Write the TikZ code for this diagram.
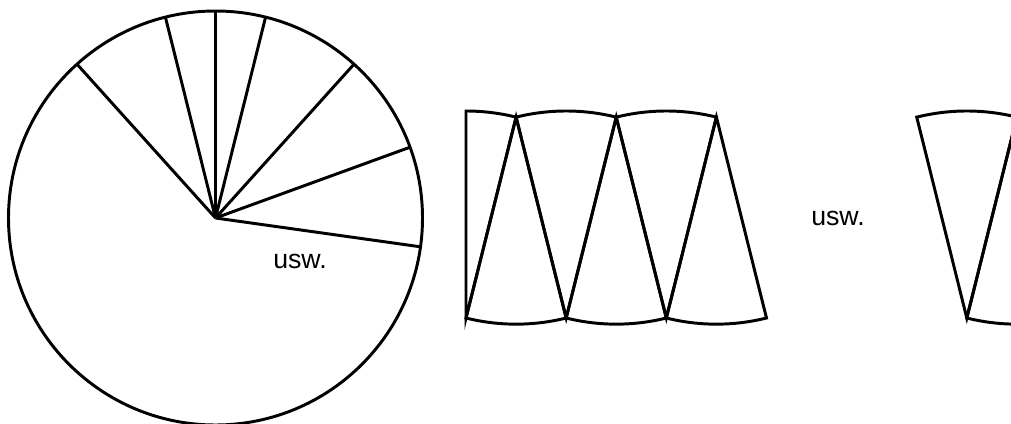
\documentclass[tikz,border=0pt]{standalone}
\usepackage{fontspec}
\setmainfont{Liberation Sans}
\usepackage{tikz}
\usetikzlibrary{calc}

\tikzset{
  kontur/.style={line width=2.1pt},
  usw/.style={font=\fontsize{19}{21}\selectfont}
}

\begin{document}
\begin{tikzpicture}[x=0.025cm, y=0.025cm]
\useasboundingbox (0,0) rectangle (1011,423);
\clip (0,0) rectangle (1011,423);

% Kreis mit Sektoren
\coordinate (M) at (215.5,205);
\draw[kontur] (M) circle[radius=207];
\foreach \w in {132,104,90,76,48,20,-8}
  \draw[kontur] (M) -- ++(\w:207);
\node[usw] (usw1) at (300,162) {usw.};

% halber Sektor am Anfang
\draw[kontur] (466,105) -- ++(90:207) arc[start angle=90, end angle=76, radius=207] -- cycle;

% Sektoren mit Spitze unten
\foreach \k in {1,2,5}
  \draw[kontur] ({466+\k*100.16},105) -- ++(104:207) arc[start angle=104, end angle=76, radius=207] -- cycle;

% Sektoren mit Spitze oben
\foreach \k in {0,1,2,5}
  \draw[kontur] ({516.08+\k*100.16},305.85) -- ++(256:207) arc[start angle=256, end angle=284, radius=207] -- cycle;

\node[usw] (usw2) at (838,205) {usw.};

\end{tikzpicture}
\end{document}
